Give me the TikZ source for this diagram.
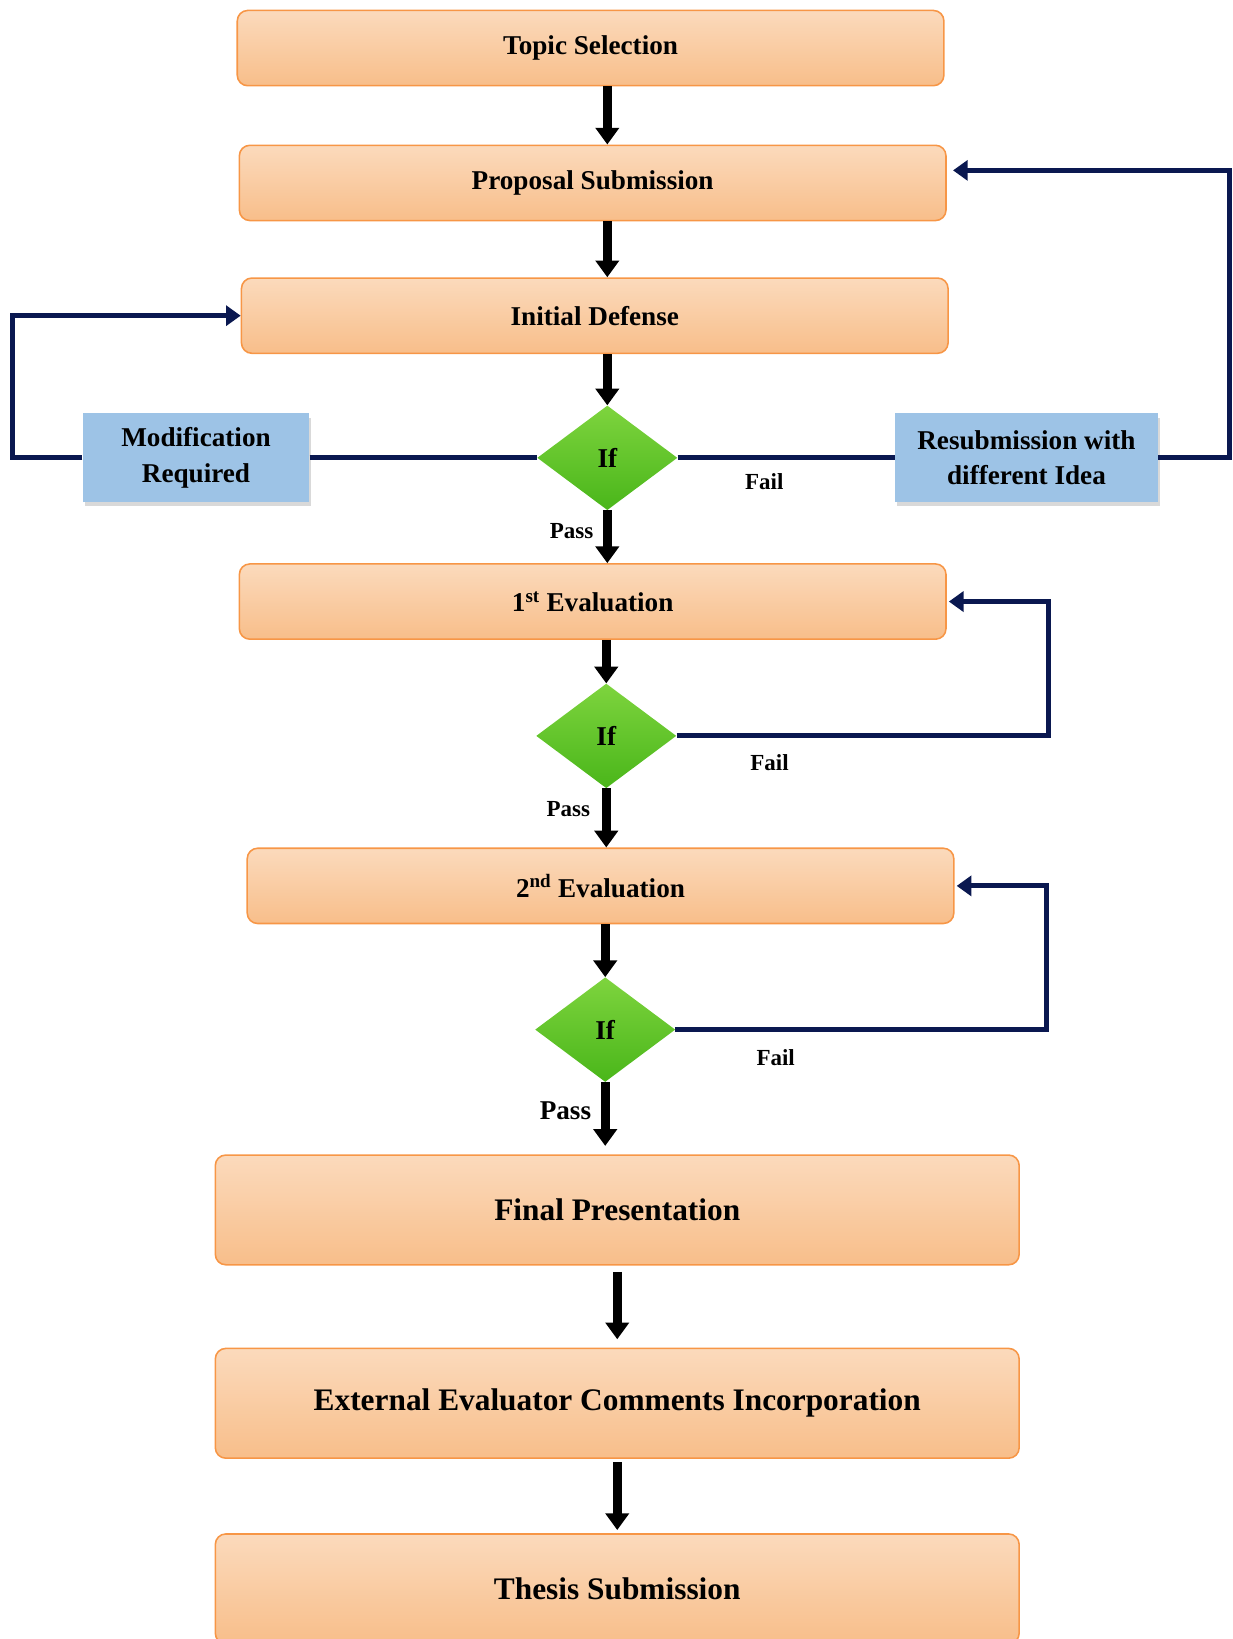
\documentclass[tikz,border=0pt]{standalone}
\usepackage{fontspec}
\setmainfont{Liberation Serif}
\usepackage{xcolor}
\usepackage{tikz}
\usetikzlibrary{positioning, shapes.geometric, arrows.meta, shadows}
\definecolor{tsOrange}{RGB}{247, 150, 70}
\definecolor{tsPeachTop}{RGB}{251, 218, 188}
\definecolor{tsPeachBot}{RGB}{248, 190, 138}
\definecolor{tsBlue}{RGB}{157, 195, 230}
\definecolor{tsNavy}{RGB}{10, 24, 80}
\definecolor{tsGreenTop}{RGB}{126, 212, 62}
\definecolor{tsGreenBot}{RGB}{74, 182, 26}
\tikzset{
    base/.style={
        font=\bfseries\fontsize{26}{34}\selectfont,
        align=center
    },
    stage/.style={
        base,
        rectangle,
        rounded corners=10pt,
        draw=tsOrange,
        line width=1.5pt,
        top color=tsPeachTop,
        bottom color=tsPeachBot,
        minimum width=676pt,
        minimum height=72pt
    },
    bigstage/.style={
        stage,
        font=\bfseries\fontsize{30}{36}\selectfont,
        minimum width=769pt,
        minimum height=105pt
    },
    decision/.style={
        base,
        diamond,
        top color=tsGreenTop,
        bottom color=tsGreenBot,
        minimum width=134pt,
        minimum height=100pt,
        inner sep=0pt
    },
    remark/.style={
        base,
        rectangle,
        fill=tsBlue,
        minimum height=85pt,
        inner sep=2pt,
        drop shadow={opacity=0.3, shadow xshift=2pt, shadow yshift=-4pt}
    },
    flow/.style={
        -{Triangle[width=22pt, length=16pt]},
        line width=9pt,
        black
    },
    back/.style={
        -{Triangle[width=19pt, length=14pt]},
        line width=5pt,
        tsNavy
    },
    verdict/.style={
        font=\bfseries\fontsize{22}{26}\selectfont,
        inner sep=3pt
    }
}
\begin{document}
\begin{tikzpicture}[x=1pt, y=-1pt]
    \useasboundingbox (0,0) rectangle (1179,1568);

    % Proposal stage
    \node[stage] (topic) at (565,46) {Topic Selection};
    \node[stage] (prop) at (567,175) {Proposal Submission};
    \node[stage] (init) at (569,302) {Initial Defense};

    % Initial defense decision
    \node[decision] (if1) at (581,438) {If};
    \node[remark, minimum width=217pt] (mod) at (187.5,438) {Modification\\Required};
    \node[remark, minimum width=252pt] (resub) at (982,438) {Resubmission with\\different Idea};

    % Evaluations
    \node[stage] (ev1) at (567,575.5) {1\textsuperscript{st} Evaluation};
    \node[decision] (if2) at (580,704) {If};
    \node[stage] (ev2) at (574.5,847.5) {2\textsuperscript{nd} Evaluation};
    \node[decision] (if3) at (579,985) {If};

    % Final steps
    \node[bigstage] (final) at (590.5,1157.5) {Final Presentation};
    \node[bigstage] (ext) at (590.5,1342.5) {External Evaluator Comments Incorporation};
    \node[bigstage] (thesis) at (590.5,1520) {Thesis Submission};

    % Main flow
    \draw[flow] (topic.south -| if1.north) -- (prop.north -| if1.north);
    \draw[flow] (prop.south -| if1.north) -- (init.north -| if1.north);
    \draw[flow] (init.south -| if1.north) -- (if1.north);
    \draw[flow] (if1.south) -- node[verdict, left=6pt, pos=0.4] {Pass} (ev1.north -| if1.south);
    \draw[flow] (ev1.south -| if2.north) -- (if2.north);
    \draw[flow] (if2.south) -- node[verdict, left=8pt, pos=0.35] {Pass} (ev2.north -| if2.south);
    \draw[flow] (ev2.south -| if3.north) -- (if3.north);
    \draw[flow] (if3.south) -- node[verdict, left=6pt, pos=0.45, font=\bfseries\fontsize{26}{30}\selectfont] {Pass} ([yshift=8pt]final.north -| if3.south);
    \draw[flow, shorten <=6pt, shorten >=8pt] (final.south) -- (ext.north);
    \draw[flow, shorten <=3pt, shorten >=3pt] (ext.south) -- (thesis.north);

    % Feedback loops
    \draw[tsNavy, line width=5pt] (mod.east) -- (if1.west);
    \draw[tsNavy, line width=5pt] (if1.east) -- node[verdict, below=10pt, pos=0.4, black] {Fail} (resub.west);
    \draw[back] (mod.west) -- ++(-67,0) |- (init.west);
    \draw[back, shorten >=6pt] (resub.east) -- ++(68,0) |- ([yshift=12pt]prop.east);
    \draw[back, shorten >=2pt] (if2.east) -- node[verdict, below=12pt, pos=0.25, black] {Fail} ++(356,0) |- (ev1.east);
    \draw[back, shorten >=2pt] (if3.east) -- node[verdict, below=14pt, pos=0.27, black] {Fail} ++(355,0) |- (ev2.east);

\end{tikzpicture}
\end{document}
